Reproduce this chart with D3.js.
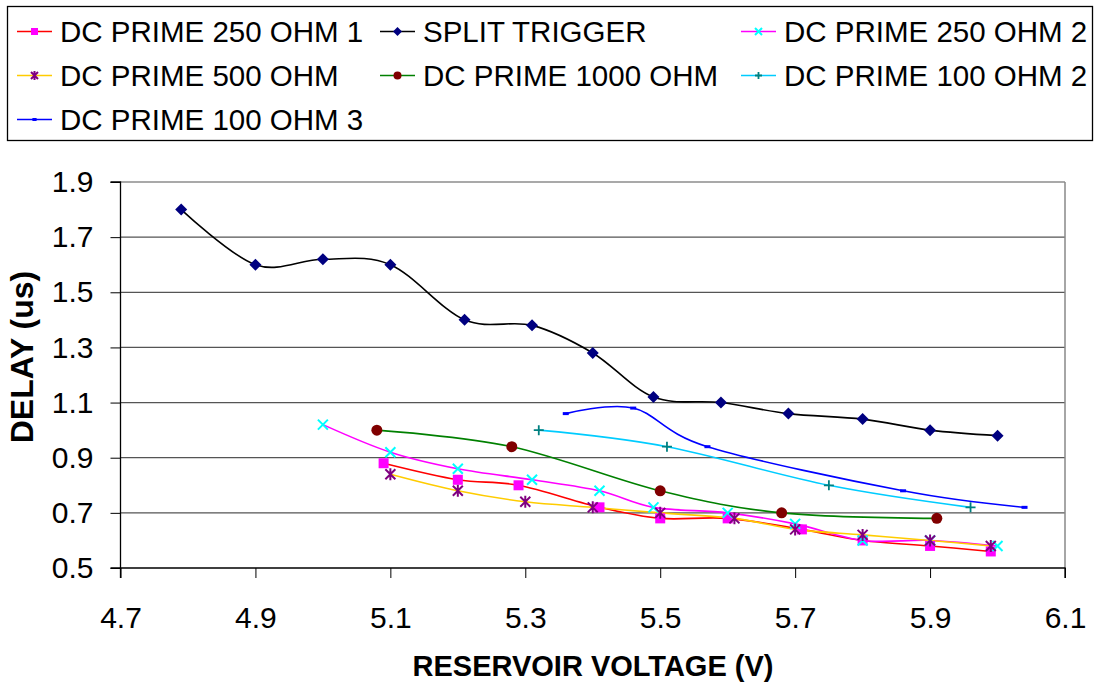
<!DOCTYPE html>
<html>
<head>
<meta charset="utf-8">
<script src="https://cdn.jsdelivr.net/npm/d3@7"></script>
<style>
  body { margin: 0; background: #fff; }
  svg { display: block; font-family: "Liberation Sans", Arial, sans-serif; }
</style>
</head>
<body>
<svg id="chart" width="1099" height="686"></svg>
<script>
// series names (legend order)
const seriesNames = ["DC PRIME 250 OHM 1", "SPLIT TRIGGER", "DC PRIME 250 OHM 2",
    "DC PRIME 500 OHM", "DC PRIME 1000 OHM", "DC PRIME 100 OHM 2", "DC PRIME 100 OHM 3"];

// values (voltage, delay)
const dc250_1_x = [5.09, 5.2, 5.29, 5.41, 5.5, 5.6, 5.71, 5.8, 5.9, 5.99];
const dc250_1_y = [0.88, 0.82, 0.80, 0.72, 0.68, 0.68, 0.64, 0.60, 0.58, 0.56];

const split_x = [4.79, 4.9, 5.0, 5.1, 5.21, 5.31, 5.4, 5.49, 5.59, 5.69, 5.8, 5.9, 6.0];
const split_y = [1.80, 1.60, 1.62, 1.60, 1.40, 1.38, 1.28, 1.12, 1.10, 1.06, 1.04, 1.00, 0.98];

const dc250_2_x = [5.0, 5.1, 5.2, 5.31, 5.41, 5.49, 5.6, 5.7, 5.8, 5.9, 6.0];
const dc250_2_y = [1.02, 0.92, 0.86, 0.82, 0.78, 0.72, 0.70, 0.66, 0.60, 0.60, 0.58];

const dc500_x = [5.1, 5.2, 5.3, 5.4, 5.5, 5.61, 5.7, 5.8, 5.9, 5.99];
const dc500_y = [0.84, 0.78, 0.74, 0.72, 0.70, 0.68, 0.64, 0.62, 0.60, 0.58];

const dc1000_x = [5.08, 5.28, 5.5, 5.68, 5.91];
const dc1000_y = [1.00, 0.94, 0.78, 0.70, 0.68];

const dc100_2_x = [5.32, 5.51, 5.75, 5.96];
const dc100_2_y = [1.00, 0.94, 0.80, 0.72];

const dc100_3_x = [5.36, 5.46, 5.57, 5.86, 6.04];
const dc100_3_y = [1.06, 1.08, 0.94, 0.78, 0.72];

const xTicks = [4.7, 4.9, 5.1, 5.3, 5.5, 5.7, 5.9, 6.1];
const yTicks = [0.5, 0.7, 0.9, 1.1, 1.3, 1.5, 1.7, 1.9];

const xs = [dc250_1_x, split_x, dc250_2_x, dc500_x, dc1000_x, dc100_2_x, dc100_3_x];
const ys = [dc250_1_y, split_y, dc250_2_y, dc500_y, dc1000_y, dc100_2_y, dc100_3_y];

// styling for each series
const lineColors = ["#FF0000", "#000000", "#FF00FF", "#FFCC00", "#008000", "#00CCFF", "#0000FF"];
const markerColors = ["#FF00FF", "#000080", "#00FFFF", "#800080", "#800000", "#008080", "#0000FF"];
const markerTypes = ["square", "diamond", "x", "star", "circle", "plus", "dash"];

const series = seriesNames.map((name, i) => ({
    name: name,
    line: lineColors[i],
    marker: markerColors[i],
    type: markerTypes[i],
    points: xs[i].map((x, j) => ({x: x, y: ys[i][j]}))
}));

const svg = d3.select("#chart");

const plot = {left: 120.5, right: 1065, top: 182, bottom: 568};

const xScale = d3.scaleLinear().domain([4.7, 6.1]).range([plot.left, plot.right]);
const yScale = d3.scaleLinear().domain([0.5, 1.9]).range([plot.bottom, plot.top]);

// grid lines
svg.append("g")
    .selectAll("line")
    .data(yTicks.filter(t => t > 0.5))
    .join("line")
    .attr("x1", plot.left)
    .attr("x2", plot.right)
    .attr("y1", d => yScale(d))
    .attr("y2", d => yScale(d))
    .attr("stroke", "#555")
    .attr("stroke-width", 1.2);

// right border of plot area
svg.append("line")
    .attr("x1", plot.right).attr("x2", plot.right)
    .attr("y1", plot.top).attr("y2", plot.bottom)
    .attr("stroke", "#888").attr("stroke-width", 1.5);

// axes
const xAxis = d3.axisBottom(xScale).tickValues(xTicks).tickFormat(d3.format(".1f")).tickSize(10).tickPadding(29);
const yAxis = d3.axisLeft(yScale).tickValues(yTicks).tickFormat(d3.format(".1f")).tickSize(10).tickPadding(17);

const gx = svg.append("g").attr("transform", `translate(0,${plot.bottom})`).call(xAxis);
const gy = svg.append("g").attr("transform", `translate(${plot.left},0)`).call(yAxis);

[gx, gy].forEach(g => {
    g.select(".domain").attr("stroke", "#000").attr("stroke-width", 1.3);
    g.selectAll(".tick line").attr("stroke", "#000").attr("stroke-width", 1);
    g.selectAll(".tick text")
        .attr("fill", "#000")
        .style("font-size", "30px")
        .style("font-family", "'Liberation Sans', Arial, sans-serif");
});
gx.select(".domain").attr("d", `M${plot.left},10V0H${plot.right}V10`);
gy.select(".domain").attr("d", `M-10,${plot.top}H0V${plot.bottom}H-10`);

// axis titles
svg.append("text")
    .attr("x", 593)
    .attr("y", 676)
    .attr("text-anchor", "middle")
    .style("font-size", "29px")
    .style("font-weight", "bold")
    .text("RESERVOIR VOLTAGE (V)");

svg.append("text")
    .attr("transform", "translate(33,357) rotate(-90)")
    .attr("text-anchor", "middle")
    .style("font-size", "32px")
    .style("font-weight", "bold")
    .text("DELAY (us)");

function drawMarker(g, type, color, size) {
    const h = size / 2;
    if (type === "square") {
        g.append("rect").attr("x", -h).attr("y", -h).attr("width", size).attr("height", size).attr("fill", color);
    } else if (type === "diamond") {
        g.append("path").attr("d", `M0,${-h - 1}L${h + 1},0L0,${h + 1}L${-h - 1},0Z`).attr("fill", color);
    } else if (type === "circle") {
        g.append("circle").attr("r", h + 0.5).attr("fill", color);
    } else if (type === "x") {
        g.append("path").attr("d", `M${-h},${-h}L${h},${h}M${-h},${h}L${h},${-h}`)
            .attr("stroke", color).attr("stroke-width", 2).attr("fill", "none");
    } else if (type === "star") {
        g.append("path").attr("d", `M${-h},${-h}L${h},${h}M${-h},${h}L${h},${-h}M0,${-h - 1}L0,${h + 1}`)
            .attr("stroke", color).attr("stroke-width", 2).attr("fill", "none");
    } else if (type === "plus") {
        g.append("path").attr("d", `M${-h},0L${h},0M0,${-h}L0,${h}`)
            .attr("stroke", color).attr("stroke-width", 1.8).attr("fill", "none");
    } else if (type === "dash") {
        g.append("rect").attr("x", -h * 0.6).attr("y", -1.5).attr("width", size * 0.6).attr("height", 3).attr("fill", color);
    }
}

// smoothed lines
const line = d3.line()
    .x(d => xScale(d.x))
    .y(d => yScale(d.y))
    .curve(d3.curveCatmullRom.alpha(0));

const seriesG = svg.append("g");
series.forEach(s => {
    seriesG.append("path")
        .datum(s.points)
        .attr("d", line)
        .attr("fill", "none")
        .attr("stroke", s.line)
        .attr("stroke-width", 1.6);
});
series.forEach(s => {
    s.points.forEach(p => {
        const g = seriesG.append("g").attr("transform", `translate(${xScale(p.x)},${yScale(p.y)})`);
        drawMarker(g, s.type, s.marker, 10);
    });
});

// legend
svg.append("rect")
    .attr("x", 7.5).attr("y", 6.5)
    .attr("width", 1085).attr("height", 134)
    .attr("fill", "#fff")
    .attr("stroke", "#000")
    .attr("stroke-width", 1.3);

const colX = [17, 380, 741];
const rowY = [31.5, 75.5, 119.5];

series.forEach((s, i) => {
    const cx = colX[i % 3];
    const cy = rowY[Math.floor(i / 3)];
    const g = svg.append("g").attr("transform", `translate(${cx},${cy})`);
    g.append("line").attr("x1", 0).attr("x2", 35).attr("y1", 0).attr("y2", 0)
        .attr("stroke", s.line).attr("stroke-width", 1.7);
    const m = g.append("g").attr("transform", "translate(17.5,0)");
    drawMarker(m, s.type, s.marker, 7);
    g.append("text")
        .attr("x", 43)
        .attr("y", 10.5)
        .style("font-size", "29.5px")
        .attr("fill", "#000")
        .text(s.name);
});
</script>
</body>
</html>
